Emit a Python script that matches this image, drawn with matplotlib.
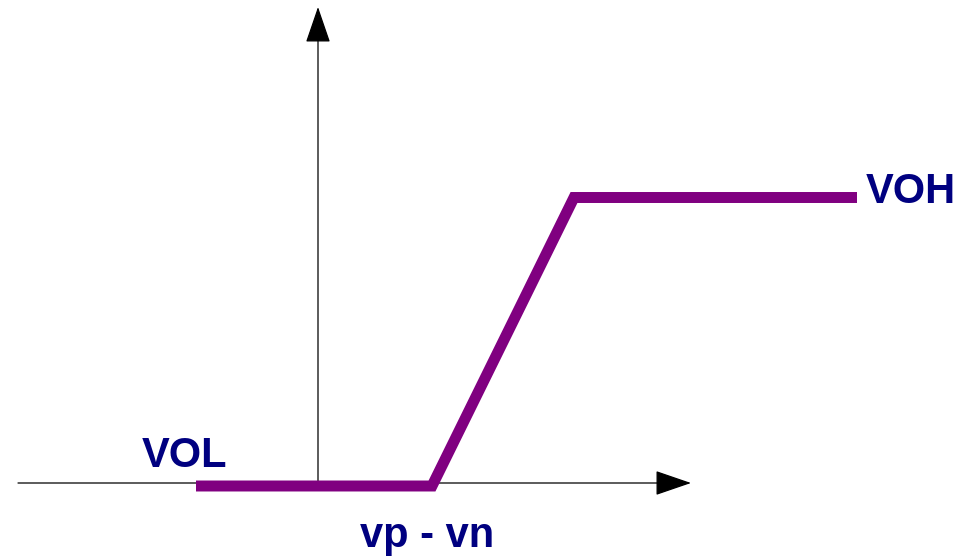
import matplotlib.pyplot as plt

# transfer curve (vp - vn on x, output on y)
vin = [-1.22, 1.14, 2.56, 5.39]
vout = [-0.03, -0.03, 2.855, 2.855]

level_labels = ["VOL", "VOH"]
xlabel_text = "vp - vn"


def main():
    fig = plt.figure(figsize=(9.71, 5.56), dpi=100)
    ax = fig.add_axes([0, 0, 1, 1])
    ax.set_xlim(-3.18, 6.53)
    ax.set_ylim(-0.73, 4.83)
    ax.axis("off")

    arrow = dict(arrowstyle="-|>,head_length=2.3,head_width=0.79",
                 mutation_scale=10, lw=0.9, color="black",
                 shrinkA=0, shrinkB=0)
    # x axis
    ax.annotate("", xy=(3.73, 0), xytext=(-3.0, 0), arrowprops=arrow,
                zorder=1)
    # y axis
    ax.annotate("", xy=(0, 4.76), xytext=(0, 0), arrowprops=arrow,
                zorder=1)

    ax.plot(vin, vout, color="#800080", lw=7.9, zorder=5,
            solid_joinstyle="miter", solid_capstyle="butt")

    font = dict(family=["Liberation Sans", "DejaVu Sans"], weight="bold",
                size=30, color="#000080")
    ax.text(-1.76, 0.16, level_labels[0], ha="left", va="baseline", **font)
    ax.text(5.48, 2.80, level_labels[1], ha="left", va="baseline", **font)
    ax.text(1.09, -0.64, xlabel_text, ha="center", va="baseline", **font)

    fig.savefig("out.png", dpi=100)


if __name__ == "__main__":
    main()
